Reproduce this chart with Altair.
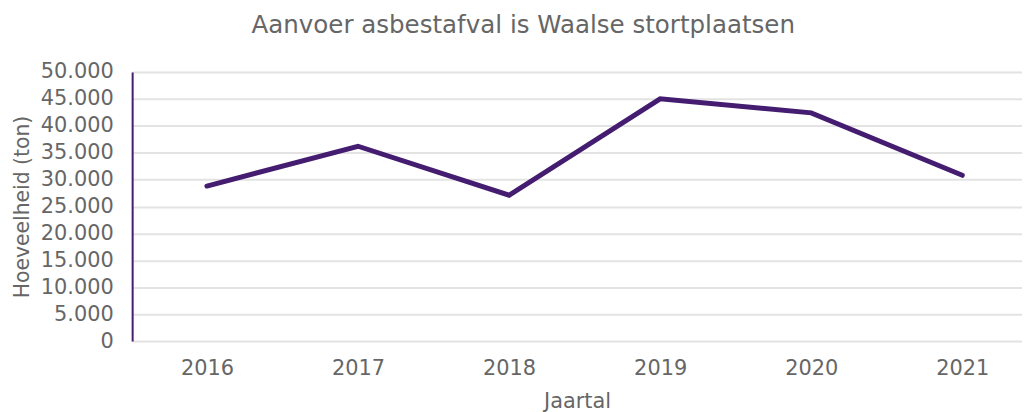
import altair as alt
import pandas as pd

years = ["2016", "2017", "2018", "2019", "2020", "2021"]
values = [28800, 36200, 27100, 45000, 42400, 30800]
y_ticks = [0, 5000, 10000, 15000, 20000, 25000, 30000, 35000, 40000, 45000, 50000]

df = pd.DataFrame({"Jaartal": years, "Hoeveelheid": values})

FONT = "DejaVu Sans"
GREY = "#666666"
PURPLE = "#451d70"

chart = (
    alt.Chart(df)
    .mark_line(color=PURPLE, strokeWidth=5, strokeCap="round", strokeJoin="miter")
    .encode(
        x=alt.X(
            "Jaartal:O",
            sort=years,
            scale=alt.Scale(type="point", padding=0.445, align=0.556),
            axis=alt.Axis(
                title="Jaartal",
                labelAngle=0,
                domain=False,
                ticks=False,
                labelFont=FONT,
                labelFontSize=21,
                labelColor=GREY,
                labelPadding=17,
                titleFont=FONT,
                titleFontSize=21,
                titleFontWeight="normal",
                titleColor=GREY,
                titlePadding=12,
            ),
        ),
        y=alt.Y(
            "Hoeveelheid:Q",
            scale=alt.Scale(domain=[0, 50000], nice=False),
            axis=alt.Axis(
                title="Hoeveelheid (ton)",
                values=y_ticks,
                labelExpr="replace(format(datum.value, ','), ',', '.')",
                domainColor=PURPLE,
                domainWidth=2,
                ticks=False,
                grid=True,
                gridColor="#e3e3e3",
                gridWidth=2,
                labelFont=FONT,
                labelFontSize=21,
                labelColor=GREY,
                labelPadding=19,
                titleFont=FONT,
                titleFontSize=20.5,
                titleFontWeight="normal",
                titleColor=GREY,
                titlePadding=8,
            ),
        ),
    )
    .properties(
        width=896,
        height=271,
        title=alt.TitleParams(
            "Aanvoer asbestafval is Waalse stortplaatsen",
            font=FONT,
            fontSize=24.7,
            fontWeight="normal",
            color=GREY,
            anchor="middle",
            frame="bounds",
            offset=24,
            dx=6,
        ),
    )
    .configure_view(stroke=None)
    .configure(padding={"left": 4, "top": 3, "right": 0, "bottom": 0})
)

chart.save("out.html", embed_options={"renderer": "svg", "actions": False})
